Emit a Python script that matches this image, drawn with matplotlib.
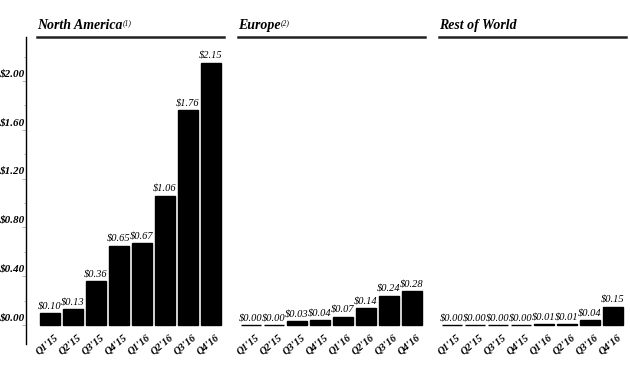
import numpy as np
import matplotlib
matplotlib.use("Agg")
import matplotlib.pyplot as plt
from matplotlib.transforms import ScaledTranslation
from matplotlib.lines import Line2D

# data
quarters = ["Q1'15", "Q2'15", "Q3'15", "Q4'15", "Q1'16", "Q2'16", "Q3'16", "Q4'16"]
northAmerica = [0.10, 0.13, 0.36, 0.65, 0.67, 1.06, 1.76, 2.15]
europe = [0.00, 0.00, 0.03, 0.04, 0.07, 0.14, 0.24, 0.28]
restOfWorld = [0.00, 0.00, 0.00, 0.00, 0.01, 0.01, 0.04, 0.15]
panelTitles = ["North America", "Europe", "Rest of World"]
panelNotes = ["(1)", "(2)", ""]
yTicks = [0.0, 0.4, 0.8, 1.2, 1.6, 2.0]
yTickLabels = ["$0.00", "$0.40", "$0.80", "$1.20", "$1.60", "$2.00"]
yMinorTicks = [0.2, 0.6, 1.0, 1.4, 1.8, 2.2]

serif = "Liberation Serif"
W, H = 630, 370
fig = plt.figure(figsize=(6.3, 3.7), dpi=100)

# panel left edges in pixels, all same width
lefts = [37, 238, 439]
panelWidth = 187
axTop, axBottom = 37, 344
x = np.arange(len(quarters))

for i, vals in enumerate([northAmerica, europe, restOfWorld]):
    ax = fig.add_axes([lefts[i] / W, 1 - axBottom / H, panelWidth / W, (axBottom - axTop) / H])
    ax.bar(x, vals, width=0.89, color="black", edgecolor="black", linewidth=1.0)
    ax.set_xlim(-0.57, 7.56)
    ax.set_ylim(-0.155, 2.36)
    for s in ["top", "right", "bottom"]:
        ax.spines[s].set_visible(False)

    # value labels
    for xi, v in zip(x, vals):
        ax.annotate("${:.2f}".format(v), (xi, v), xytext=(0, 1.5), textcoords="offset points",
                    ha="center", va="bottom", fontsize=7.5, family=serif, style="italic")

    # quarter labels
    ax.set_xticks(x)
    ax.set_xticklabels(quarters, rotation=40, ha="right", va="top", rotation_mode="anchor",
                       fontsize=7.5, family=serif, style="italic", fontweight="bold")
    ax.tick_params(axis="x", length=0, pad=0)
    for lab in ax.get_xticklabels():
        lab.set_transform(lab.get_transform() + ScaledTranslation(3 / 72, 8 / 72, fig.dpi_scale_trans))

    if i == 0:
        ax.spines["left"].set_position(("outward", 8))
        ax.spines["left"].set_linewidth(1.0)
        ax.set_yticks(yTicks)
        ax.set_yticklabels(yTickLabels, fontsize=8, family=serif, style="italic", fontweight="bold")
        ax.set_yticks(yMinorTicks, minor=True)
        ax.tick_params(axis="y", which="major", length=3, color="#aaaaaa", width=0.6, pad=-2)
        ax.tick_params(axis="y", which="minor", length=1.5, color="#aaaaaa", width=0.6)
        for lab in ax.get_yticklabels():
            lab.set_transform(lab.get_transform() + ScaledTranslation(0, 6 / 72, fig.dpi_scale_trans))
    else:
        ax.spines["left"].set_visible(False)
        ax.set_yticks([])

    # header line and title
    fig.add_artist(Line2D([lefts[i] / W, (lefts[i] + panelWidth) / W], [1 - 37 / H, 1 - 37 / H],
                          color="#222222", linewidth=1.8))
    t = fig.text(lefts[i] / W, 1 - 29 / H, panelTitles[i], ha="left", va="baseline",
                 fontsize=10, family=serif, style="italic", fontweight="bold")
    if panelNotes[i]:
        ax.annotate(panelNotes[i], xy=(1, 1), xycoords=t, xytext=(0.3, 0), textcoords="offset points",
                    ha="left", va="top", fontsize=5.5, family=serif, style="italic")

fig.savefig("out.png", dpi=100)
